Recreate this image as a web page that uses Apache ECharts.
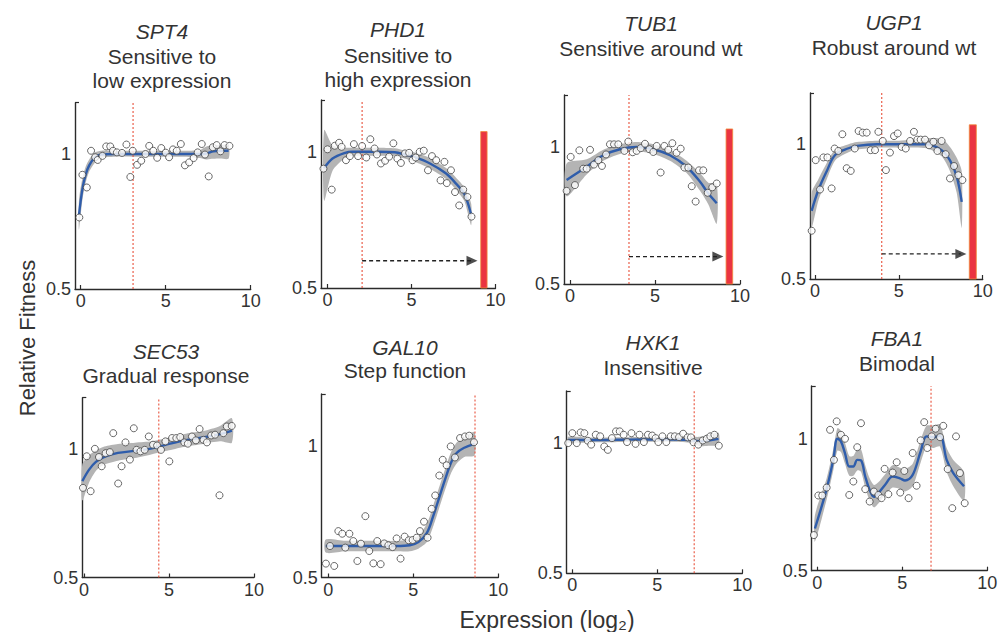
<!DOCTYPE html>
<html><head><meta charset="utf-8">
<script src="https://cdn.jsdelivr.net/npm/echarts@6/dist/echarts.min.js"></script>
<style>html,body{margin:0;padding:0;background:#fff}#c{width:998px;height:632px}</style>
</head><body><div id="c"></div>
<script>
// ---------- data ----------
const GENES = ['SPT4','PHD1','TUB1','UGP1','SEC53','GAL10','HXK1','FBA1'];
const DESCS = [['Sensitive to','low expression'],['Sensitive to','high expression'],['Sensitive around wt'],['Robust around wt'],['Gradual response'],['Step function'],['Insensitive'],['Bimodal']];
const X_TICKS = [0,5,10];
const Y_TICKS = [0.5,1];
const WT = [3.08,2.06,3.47,3.98,4.4,8.63,7.17,6.69];

const SPT4_X = [-0.08,0.1,0.36,0.61,0.85,1.0,1.28,1.5,1.74,1.9,2.13,2.43,2.69,2.92,3.06,3.32,3.56,3.81,4.03,4.27,4.5,4.74,5.0,5.2,5.43,5.65,5.89,6.13,6.38,6.64,6.88,7.12,7.31,7.53,7.77,8.0,8.22,8.46,8.75];
const SPT4_Y = [0.765,0.923,0.876,1.012,0.988,0.978,0.993,1.028,1.028,1.012,1.006,1.004,1.035,0.915,1.012,0.96,0.975,1.0,1.03,1.012,0.986,1.022,1.005,0.988,1.017,1.012,1.037,0.958,0.969,0.985,1.006,1.037,0.998,0.917,1.025,1.033,1.01,1.033,1.03];
const SPT4_FX = [-0.1,0.1,0.3,0.5,0.8,1.2,2,3,4,5,6,7,7.4,7.8,8.2,8.7];
const SPT4_FIT = [0.775,0.87,0.925,0.958,0.985,0.998,1.0,1.0,1.0,1.0,1.0,1.0,1.002,1.01,1.012,1.012];
const SPT4_LO = [0.72,0.83,0.895,0.935,0.965,0.985,0.99,0.99,0.99,0.99,0.99,0.985,0.98,0.982,0.983,0.983];
const SPT4_HI = [0.83,0.91,0.955,0.98,1.005,1.012,1.012,1.012,1.012,1.012,1.012,1.015,1.028,1.032,1.033,1.033];

const PHD1_X = [-0.24,0.0,0.25,0.43,0.69,0.84,1.1,1.33,1.57,1.82,2.06,2.31,2.55,2.8,2.94,3.18,3.43,3.67,3.92,4.16,4.37,4.61,4.86,5.06,5.25,5.49,5.73,5.98,6.22,6.47,6.73,6.96,7.1,7.35,7.59,7.84,8.08,8.33,8.57];
const PHD1_Y = [0.938,1.009,0.861,1.022,1.033,1.018,0.969,0.984,1.028,0.984,1.021,0.979,1.046,1.012,0.99,0.957,0.967,0.982,1.031,0.975,0.959,0.994,0.996,0.969,0.979,1.0,1.004,0.932,0.984,0.969,0.895,0.963,0.885,0.932,0.852,0.803,0.861,0.834,0.762];
const PHD1_FX = [-0.2,0.3,1,1.5,2,3,4,4.6,5.2,6.1,7.06,7.65,8.14,8.55];
const PHD1_FIT = [0.94,0.975,0.995,1.0,1.0,1.0,0.998,0.99,0.98,0.957,0.92,0.883,0.846,0.77];
const PHD1_LO = [0.82,0.93,0.975,0.985,0.985,0.985,0.983,0.975,0.963,0.938,0.9,0.86,0.82,0.73];
const PHD1_HI = [1.08,1.025,1.015,1.015,1.015,1.015,1.013,1.005,0.997,0.977,0.94,0.905,0.87,0.81];
const PHD1_BAR = [9.12,9.5,1.074];
const PHD1_ARROW = [2.06,8.6,0.6];

const TUB1_X = [-0.2,0.04,0.29,0.55,0.78,0.98,1.18,1.41,1.67,1.88,2.12,2.35,2.59,2.84,3.2,3.43,3.69,3.92,4.16,4.41,4.67,4.9,5.1,5.33,5.55,5.78,6.02,6.27,6.51,6.73,6.96,7.16,7.39,7.59,7.84,8.1,8.37,8.63];
const TUB1_Y = [0.84,0.964,0.861,0.988,0.921,0.921,0.99,0.936,0.952,0.931,0.973,1.01,1.01,1.01,0.986,1.02,0.981,0.986,0.996,1.012,0.992,0.982,1.004,0.907,1.004,0.99,1.014,0.979,0.994,0.925,0.925,0.857,0.801,0.915,0.915,0.833,0.853,0.867];
const TUB1_FX = [-0.2,0.98,1.96,2.94,3.92,4.9,5.88,6.86,7.65,8.14,8.63];
const TUB1_FIT = [0.88,0.928,0.97,0.992,1.0,0.992,0.97,0.928,0.873,0.83,0.795];
const TUB1_LO = [0.82,0.9,0.95,0.975,0.985,0.975,0.95,0.905,0.84,0.79,0.72];
const TUB1_HI = [0.94,0.955,0.99,1.01,1.018,1.01,0.99,0.95,0.905,0.87,0.865];
const TUB1_BAR = [9.18,9.57,1.066];
const TUB1_ARROW = [3.47,8.7,0.6];

const UGP1_X = [-0.2,0.04,0.3,0.5,0.74,0.99,1.17,1.39,1.63,1.89,2.13,2.37,2.6,2.84,3.08,3.32,3.58,3.78,4.04,4.23,4.47,4.71,4.93,5.17,5.41,5.67,5.9,6.1,6.3,6.56,6.8,7.06,7.3,7.55,7.79,8.05,8.29,8.55,8.79];
const UGP1_Y = [0.679,0.941,0.832,0.951,0.951,0.836,0.984,0.975,1.037,0.911,0.901,0.984,1.049,1.043,1.043,0.978,0.978,1.046,1.012,0.904,0.969,1.03,1.04,0.99,0.984,1.012,1.046,1.017,1.017,1.017,0.996,1.009,0.975,1.012,0.963,0.873,0.919,0.885,0.867];
const UGP1_FX = [-0.2,0.2,0.7,1.2,2,2.5,3.7,5,6.66,7.55,8.05,8.45,8.75];
const UGP1_FIT = [0.753,0.83,0.9,0.96,0.985,0.994,1.0,1.0,1.0,0.978,0.94,0.88,0.786];
const UGP1_LO = [0.69,0.79,0.87,0.94,0.97,0.98,0.987,0.987,0.985,0.955,0.9,0.82,0.69];
const UGP1_HI = [0.82,0.87,0.93,0.98,1.0,1.008,1.013,1.013,1.022,1.02,0.99,0.95,0.9];
const UGP1_BAR = [9.2,9.62,1.072];
const UGP1_ARROW = [3.98,8.7,0.593];

const SEC53_X = [-0.06,0.16,0.39,0.64,0.88,1.04,1.27,1.52,1.72,2.01,2.21,2.44,2.7,2.93,3.09,3.32,3.57,3.81,4.06,4.3,4.53,4.79,5.02,5.18,5.43,5.66,5.9,6.11,6.35,6.58,6.8,7.03,7.23,7.48,7.71,7.97,8.2,8.4,8.69];
const SEC53_Y = [0.849,0.972,0.836,1.001,0.969,0.933,0.984,0.988,1.062,0.866,0.933,1.026,0.959,1.081,0.997,0.991,0.997,1.049,1.017,1.014,0.997,1.03,0.952,1.043,1.043,1.047,1.026,1.021,1.049,1.034,1.078,1.036,1.026,1.053,1.056,0.82,1.062,1.088,1.09];
const SEC53_FX = [-0.1,0.3,0.7,1.2,2,3,4,5,6,7,8,8.7];
const SEC53_FIT = [0.875,0.92,0.95,0.97,0.985,0.993,1.003,1.02,1.035,1.045,1.058,1.072];
const SEC53_LO = [0.80,0.87,0.915,0.94,0.955,0.965,0.98,0.995,1.01,1.02,1.03,1.025];
const SEC53_HI = [0.94,0.975,0.995,1.01,1.02,1.025,1.03,1.045,1.06,1.07,1.09,1.12];

const GAL10_X = [-0.14,0.1,0.35,0.59,0.82,1.0,1.24,1.47,1.71,1.92,2.18,2.41,2.65,2.88,3.08,3.29,3.53,3.78,4.02,4.25,4.49,4.73,4.96,5.2,5.39,5.63,5.84,6.08,6.29,6.53,6.73,6.96,7.2,7.45,7.75,8.04,8.29,8.57];
const GAL10_Y = [0.553,0.62,0.544,0.677,0.667,0.614,0.667,0.639,0.563,0.629,0.734,0.601,0.554,0.639,0.551,0.63,0.623,0.616,0.649,0.572,0.656,0.642,0.643,0.652,0.677,0.713,0.652,0.762,0.813,0.889,0.949,0.928,1.0,0.958,1.032,1.038,1.041,1.016];
const GAL10_FX = [-0.15,1,2,3,4,4.8,5.3,5.8,6.2,6.5,6.9,7.2,7.55,8,8.6];
const GAL10_FIT = [0.62,0.62,0.62,0.62,0.62,0.623,0.635,0.67,0.74,0.8,0.88,0.935,0.975,0.995,1.01];
const GAL10_LO = [0.595,0.6,0.6,0.6,0.6,0.6,0.61,0.635,0.7,0.76,0.84,0.895,0.935,0.96,0.965];
const GAL10_HI = [0.645,0.64,0.64,0.64,0.64,0.645,0.66,0.705,0.78,0.84,0.92,0.975,1.015,1.035,1.055];

const HXK1_X = [-0.24,0.0,0.26,0.49,0.71,0.91,1.11,1.38,1.64,1.88,2.09,2.33,2.57,2.79,3.02,3.22,3.48,3.72,3.95,4.21,4.45,4.7,4.9,5.06,5.3,5.53,5.79,6.03,6.28,6.52,6.78,6.98,7.13,7.41,7.67,7.91,8.12,8.36,8.62];
const HXK1_Y = [1.0,1.038,1.0,1.041,1.038,1.009,0.994,1.032,1.026,0.987,0.974,1.019,1.045,1.045,1.032,1.004,1.038,0.997,1.032,1.004,1.032,1.029,1.019,1.004,1.026,1.004,1.026,1.026,1.023,1.036,1.022,1.022,1.003,0.994,1.01,1.017,1.026,1.032,0.99];
const HXK1_FX = [-0.25,1,2,3,4,5,6,7,7.5,8,8.6];
const HXK1_FIT = [1.012,1.012,1.012,1.013,1.014,1.014,1.014,1.012,1.006,1.01,1.016];
const HXK1_LO = [1.0,1.003,1.003,1.004,1.005,1.005,1.005,1.0,0.988,0.99,0.993];
const HXK1_HI = [1.024,1.021,1.021,1.022,1.023,1.023,1.023,1.024,1.024,1.03,1.04];

const FBA1_X = [-0.2,0.06,0.29,0.55,0.75,0.98,1.14,1.39,1.63,1.88,2.12,2.35,2.57,2.82,3.08,3.33,3.59,3.78,3.96,4.18,4.43,4.67,4.88,5.12,5.37,5.61,5.84,6.08,6.29,6.47,6.73,6.96,7.22,7.41,7.67,7.94,8.16,8.39,8.67];
const FBA1_Y = [0.635,0.785,0.785,0.815,1.034,0.92,1.066,1.015,1.0,0.787,0.838,0.968,1.059,0.809,0.762,0.8,0.787,0.775,0.886,0.79,0.872,0.911,0.796,0.878,0.775,0.946,0.822,0.994,1.063,0.965,1.009,1.038,1.006,1.049,0.885,0.737,1.009,0.87,0.756];
const FBA1_FX = [-0.14,0.55,0.94,1.18,1.39,1.63,1.88,2.12,2.35,2.57,2.82,3.08,3.33,3.59,3.98,4.43,4.86,5.16,5.61,6.08,6.43,6.82,7.22,7.61,8.0,8.63];
const FBA1_FIT = [0.66,0.81,0.92,1.0,0.99,0.945,0.895,0.895,0.92,0.918,0.857,0.806,0.78,0.794,0.825,0.857,0.85,0.842,0.863,0.952,1.009,1.006,1.011,0.92,0.87,0.82];
const FBA1_LO = [0.61,0.77,0.88,0.955,0.95,0.905,0.86,0.86,0.88,0.875,0.815,0.765,0.74,0.755,0.785,0.815,0.81,0.8,0.82,0.91,0.97,0.965,0.97,0.875,0.82,0.765];
const FBA1_HI = [0.71,0.85,0.96,1.04,1.03,0.985,0.935,0.935,0.96,0.96,0.9,0.85,0.825,0.835,0.865,0.9,0.89,0.885,0.905,0.995,1.05,1.05,1.055,0.965,0.92,0.875];

const PANEL_DATA = [
  {x:SPT4_X,y:SPT4_Y,fx:SPT4_FX,fit:SPT4_FIT,lo:SPT4_LO,hi:SPT4_HI},
  {x:PHD1_X,y:PHD1_Y,fx:PHD1_FX,fit:PHD1_FIT,lo:PHD1_LO,hi:PHD1_HI,bar:PHD1_BAR,arrow:PHD1_ARROW},
  {x:TUB1_X,y:TUB1_Y,fx:TUB1_FX,fit:TUB1_FIT,lo:TUB1_LO,hi:TUB1_HI,bar:TUB1_BAR,arrow:TUB1_ARROW},
  {x:UGP1_X,y:UGP1_Y,fx:UGP1_FX,fit:UGP1_FIT,lo:UGP1_LO,hi:UGP1_HI,bar:UGP1_BAR,arrow:UGP1_ARROW},
  {x:SEC53_X,y:SEC53_Y,fx:SEC53_FX,fit:SEC53_FIT,lo:SEC53_LO,hi:SEC53_HI},
  {x:GAL10_X,y:GAL10_Y,fx:GAL10_FX,fit:GAL10_FIT,lo:GAL10_LO,hi:GAL10_HI},
  {x:HXK1_X,y:HXK1_Y,fx:HXK1_FX,fit:HXK1_FIT,lo:HXK1_LO,hi:HXK1_HI},
  {x:FBA1_X,y:FBA1_Y,fx:FBA1_FX,fit:FBA1_FIT,lo:FBA1_LO,hi:FBA1_HI}
];

// ---------- layout (pixels) ----------
const LAYOUT = [
  {left:75,   x0:80.7,  unit:17,    top:102.7, bottom:289,   ymax:1.19, tx:162, ty:[31,56,80]},
  {left:321,  x0:327.5, unit:16.8,  top:100,   bottom:288,   ymax:1.19, tx:398, ty:[29,55,79]},
  {left:564,  x0:570,   unit:17,    top:95,    bottom:284,   ymax:1.19, tx:651, ty:[23,48]},
  {left:810,  x0:815,   unit:16.77, top:93,    bottom:279,   ymax:1.19, tx:894, ty:[22,47]},
  {left:82.3, x0:84,    unit:17,    top:397.7, bottom:577.5, ymax:1.2,  tx:166, ty:[351,375]},
  {left:321.7,x0:328.3, unit:17,    top:394,   bottom:577.5, ymax:1.2,  tx:405, ty:[347,370]},
  {left:566.7,x0:572.3, unit:17,    top:391,   bottom:573.3, ymax:1.2,  tx:653, ty:[342,367]},
  {left:811.7,x0:817.3, unit:17,    top:386,   bottom:570.7, ymax:1.2,  tx:897, ty:[338,363]}
];

const FONT = '"Liberation Sans", Arial, Helvetica, sans-serif';
const AX = '#2b2b2b', TXT = '#333', WT_RED = '#e8503a';
const zip = (a,b) => a.map((v,i)=>[v,b[i]]);

const grid=[], xAxis=[], yAxis=[], series=[], graphic=[];
LAYOUT.forEach((L,i)=>{
  const xmin = -(L.x0-L.left)/L.unit;
  grid.push({left:L.left, top:L.top, width:(10-xmin)*L.unit, height:L.bottom-L.top, outerBoundsMode:'none', containLabel:false});
  xAxis.push({type:'value', gridIndex:i, min:xmin, max:10,
    axisLine:{show:true,onZero:false,lineStyle:{color:AX,width:1.4}},
    axisTick:{show:true,inside:true,length:4,customValues:X_TICKS,lineStyle:{color:AX,width:1.2}},
    axisLabel:{customValues:X_TICKS,fontSize:18,color:TXT,fontFamily:FONT,margin:3},
    splitLine:{show:false}});
  yAxis.push({type:'value', gridIndex:i, min:0.5, max:L.ymax,
    axisLine:{show:true,onZero:false,lineStyle:{color:AX,width:1.4}},
    axisTick:{show:true,inside:true,length:4,customValues:[L.ymax],lineStyle:{color:AX,width:1.2}},
    axisLabel:{customValues:Y_TICKS,fontSize:18,color:TXT,fontFamily:FONT,margin:4},
    splitLine:{show:false}});
  const D = PANEL_DATA[i];
  const base = {xAxisIndex:i, yAxisIndex:i, silent:true};
  // confidence band
  series.push({...base, type:'custom', data:[[D.fx[0],D.fit[0]]], z:1,
    renderItem:(p,api)=>{
      const pts=[];
      for(let k=0;k<D.fx.length;k++) pts.push(api.coord([D.fx[k],D.hi[k]]));
      for(let k=D.fx.length-1;k>=0;k--) pts.push(api.coord([D.fx[k],D.lo[k]]));
      return {type:'polygon', shape:{points:pts, smooth:0.25}, style:{fill:'#b4b4b4'}};
    }});
  // wild-type expression (red dotted vertical)
  series.push({...base, type:'line', data:[[WT[i],0.5],[WT[i],L.ymax]], showSymbol:false, z:2,
    itemStyle:{color:WT_RED}, lineStyle:{color:WT_RED, type:[2,2], width:1.1}});
  // red bar
  if (D.bar) series.push({...base, type:'line', data:[], z:2,
    markArea:{silent:true, itemStyle:{color:'#ea3441',borderColor:'#f08a3a',borderWidth:0.8},
      data:[[{coord:[D.bar[0],0.5]},{coord:[D.bar[1],D.bar[2]]}]]}});
  // dashed arrow
  if (D.arrow) {
    series.push({...base, type:'line', data:[[D.arrow[0],D.arrow[2]],[D.arrow[1],D.arrow[2]]], showSymbol:false, z:2,
      itemStyle:{color:'#222'}, lineStyle:{color:'#222', type:[4,3], width:1.3}});
    series.push({...base, type:'scatter', data:[[D.arrow[1],D.arrow[2]]], symbol:'triangle', symbolRotate:-90, symbolSize:[10,11], z:2,
      itemStyle:{color:'#222'}});
  }
  // fitted curve
  series.push({...base, type:'line', data:zip(D.fx,D.fit), smooth:0.35, showSymbol:false, z:3,
    itemStyle:{color:'#2f5dab'}, lineStyle:{color:'#2f5dab',width:2.4}});
  // measurements
  series.push({...base, type:'scatter', data:zip(D.x,D.y), symbol:'circle', symbolSize:7, z:4,
    itemStyle:{color:'#ffffff',borderColor:'#444',borderWidth:1}});
  // titles
  graphic.push({type:'text', x:L.tx, y:L.ty[0], style:{text:GENES[i], font:'italic 21px '+FONT, fill:TXT, align:'center', verticalAlign:'middle'}});
  DESCS[i].forEach((t,j)=>graphic.push({type:'text', x:L.tx, y:L.ty[j+1], style:{text:t, font:'21px '+FONT, fill:TXT, align:'center', verticalAlign:'middle'}}));
});
graphic.push({type:'text', x:27, y:338, rotation:Math.PI/2, style:{text:'Relative Fitness', font:'22px '+FONT, fill:TXT, align:'center', verticalAlign:'middle'}});
graphic.push({type:'text', x:547, y:620, style:{text:'Expression (log₂)', font:'23px '+FONT, fill:TXT, align:'center', verticalAlign:'middle'}});

const chart = echarts.init(document.getElementById('c'), null, {renderer:'svg'});
chart.setOption({animation:false, backgroundColor:'#fff', grid, xAxis, yAxis, series, graphic});
</script></body></html>
